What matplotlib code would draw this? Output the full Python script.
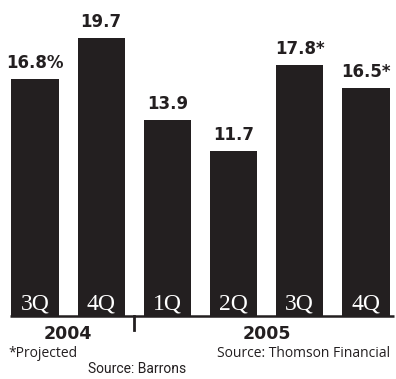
import matplotlib.pyplot as plt

quarters = ['3Q', '4Q', '1Q', '2Q', '3Q', '4Q']
bar_heights = [16.8, 19.7, 13.9, 11.7, 17.8, 16.2]
value_labels = ['16.8%', '19.7', '13.9', '11.7', '17.8*', '16.5*']
years = ['2004', '2005']
year_pos = [0.5, 3.5]
divider = 1.5

bar_color = '#231f20'

fig = plt.figure(figsize=(3.96, 3.79), dpi=100)
ax = fig.add_axes([0, 0, 1, 1])
ax.set_xlim(-35 / 66.2, (396 - 35) / 66.2)
ax.set_ylim(-63 / 14.1, (379 - 63) / 14.1)
ax.axis('off')

x = list(range(len(bar_heights)))
ax.bar(x, bar_heights, width=0.71, color=bar_color)

# baseline and year divider tick
ax.plot([-0.38, 5.42], [0, 0], color=bar_color, lw=1.8, solid_capstyle='butt')
ax.plot([divider, divider], [0, -1.0], color=bar_color, lw=2)

for i, (v, lab, q) in enumerate(zip(bar_heights, value_labels, quarters)):
    ax.annotate(lab, (i, v), xytext=(0, 5), textcoords='offset points',
                ha='center', va='bottom', fontsize=12, fontweight='bold',
                color=bar_color)
    ax.text(i, 0.45, q, ha='center', va='baseline', fontsize=17,
            family='Liberation Serif', color='white')

for xp, yr in zip(year_pos, years):
    ax.text(xp, -1.25, yr, ha='center', va='center', fontsize=12.5,
            fontweight='bold', color=bar_color)

fig.text(8 / 396, 0.0686, '*Projected', ha='left', va='center',
         fontsize=10, family='Open Sans', color=bar_color)
fig.text(390 / 396, 0.0686, 'Source: Thomson Financial', ha='right',
         va='center', fontsize=10, family='Open Sans', color=bar_color)
fig.text(88 / 396, 0.026, 'Source: Barrons', ha='left', va='center',
         fontsize=10, family='Roboto', color=bar_color)

fig.savefig('out.png', dpi=100)
